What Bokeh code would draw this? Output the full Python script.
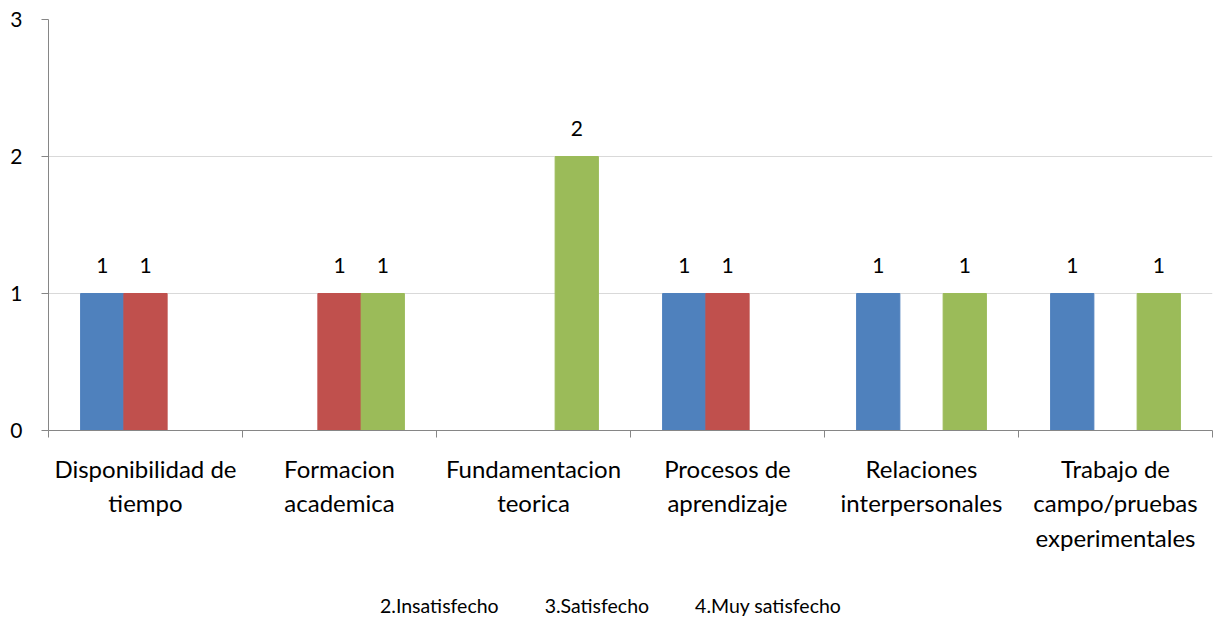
from bokeh.plotting import figure
from bokeh.layouts import column
from bokeh.models import FixedTicker, Legend, LegendItem, Range1d, ColumnDataSource
from bokeh.core.properties import value
from bokeh.embed import file_html
from bokeh.resources import INLINE

categories = ["Disponibilidad de\ntiempo", "Formacion\nacademica", "Fundamentacion\nteorica",
              "Procesos de\naprendizaje", "Relaciones\ninterpersonales",
              "Trabajo de\ncampo/pruebas\nexperimentales"]
series_names = ["2.Insatisfecho", "3.Satisfecho", "4.Muy satisfecho"]
insatisfecho = [1, None, None, 1, 1, 1]
satisfecho = [1, 1, None, 1, None, None]
muy_satisfecho = [None, 1, 2, None, 1, 1]
y_ticks = [0, 1, 2, 3]

colors = ["#4F81BD", "#C0504D", "#9BBB59"]
FONT = "Lato"

p = figure(width=1219, height=580, output_backend="svg", toolbar_location=None,
           x_range=Range1d(0, len(categories)), y_range=Range1d(0, 3),
           min_border_left=48, min_border_right=7, min_border_top=19, min_border_bottom=150)
p.outline_line_color = None

bw = 0.223
offsets = [-bw, 0, bw]
for s, (vals, col, off) in enumerate(zip([insatisfecho, satisfecho, muy_satisfecho], colors, offsets)):
    xs, ys, labels = [], [], []
    for i, v in enumerate(vals):
        if v is not None:
            xs.append(i + 0.5 + off)
            ys.append(v)
            labels.append(str(v))
    src = ColumnDataSource(dict(x=xs, top=ys, lab=labels))
    p.vbar(x="x", top="top", bottom=0, width=bw, color=col, source=src)
    p.text(x="x", y="top", text="lab", source=src, text_align="center",
           text_baseline="middle", y_offset=-28, text_font=value(FONT),
           text_font_size="21px", text_color="#000000")

# x axis
p.xaxis.ticker = FixedTicker(ticks=[i + 0.5 for i in range(len(categories))],
                             minor_ticks=list(range(len(categories) + 1)))
p.xaxis.major_label_overrides = {i + 0.5: c for i, c in enumerate(categories)}
p.xaxis.major_tick_line_color = None
p.xaxis.major_tick_out = 0
p.xaxis.major_tick_in = 0
p.xaxis.minor_tick_line_color = "#868686"
p.xaxis.minor_tick_out = 7
p.xaxis.minor_tick_in = 0
p.xaxis.axis_line_color = "#868686"
p.xaxis.major_label_text_font = FONT
p.xaxis.major_label_text_font_size = "24px"
p.xaxis.major_label_text_color = "#000000"
p.xaxis.major_label_standoff = 16
p.xgrid.grid_line_color = None

# y axis
p.yaxis.ticker = FixedTicker(ticks=y_ticks, minor_ticks=[])
p.yaxis.major_tick_line_color = "#868686"
p.yaxis.major_tick_out = 7
p.yaxis.major_tick_in = 0
p.yaxis.axis_line_color = "#868686"
p.yaxis.major_label_text_font = FONT
p.yaxis.major_label_text_font_size = "21px"
p.yaxis.major_label_text_color = "#000000"
p.yaxis.major_label_standoff = 19
p.ygrid.grid_line_color = "#D9D9D9"

# legend strip below the chart
lp = figure(width=1219, height=39, output_backend="svg", toolbar_location=None,
            x_range=Range1d(0, 1), y_range=Range1d(0, 1),
            x_axis_location=None, y_axis_location=None,
            min_border_left=0, min_border_right=0, min_border_top=0, min_border_bottom=0)
lp.outline_line_color = None
lp.grid.grid_line_color = None
swatches = []
for col in colors:
    swatches.append(lp.vbar(x="x", top="top", width=0.1, color=col,
                            source=ColumnDataSource(dict(x=[], top=[]))))

legend = Legend(items=[LegendItem(label=n, renderers=[r]) for n, r in zip(series_names, swatches)],
                orientation="horizontal", location=(317, 2))
legend.glyph_width = 11
legend.glyph_height = 11
legend.label_standoff = 4
legend.spacing = 31
legend.padding = 0
legend.margin = 0
legend.border_line_color = None
legend.background_fill_alpha = 0
legend.label_text_font = FONT
legend.label_text_font_size = "19.5px"
legend.label_text_color = "#000000"
lp.add_layout(legend, "center")

layout = column(p, lp)
open("out.html", "w").write(file_html(layout, INLINE))
